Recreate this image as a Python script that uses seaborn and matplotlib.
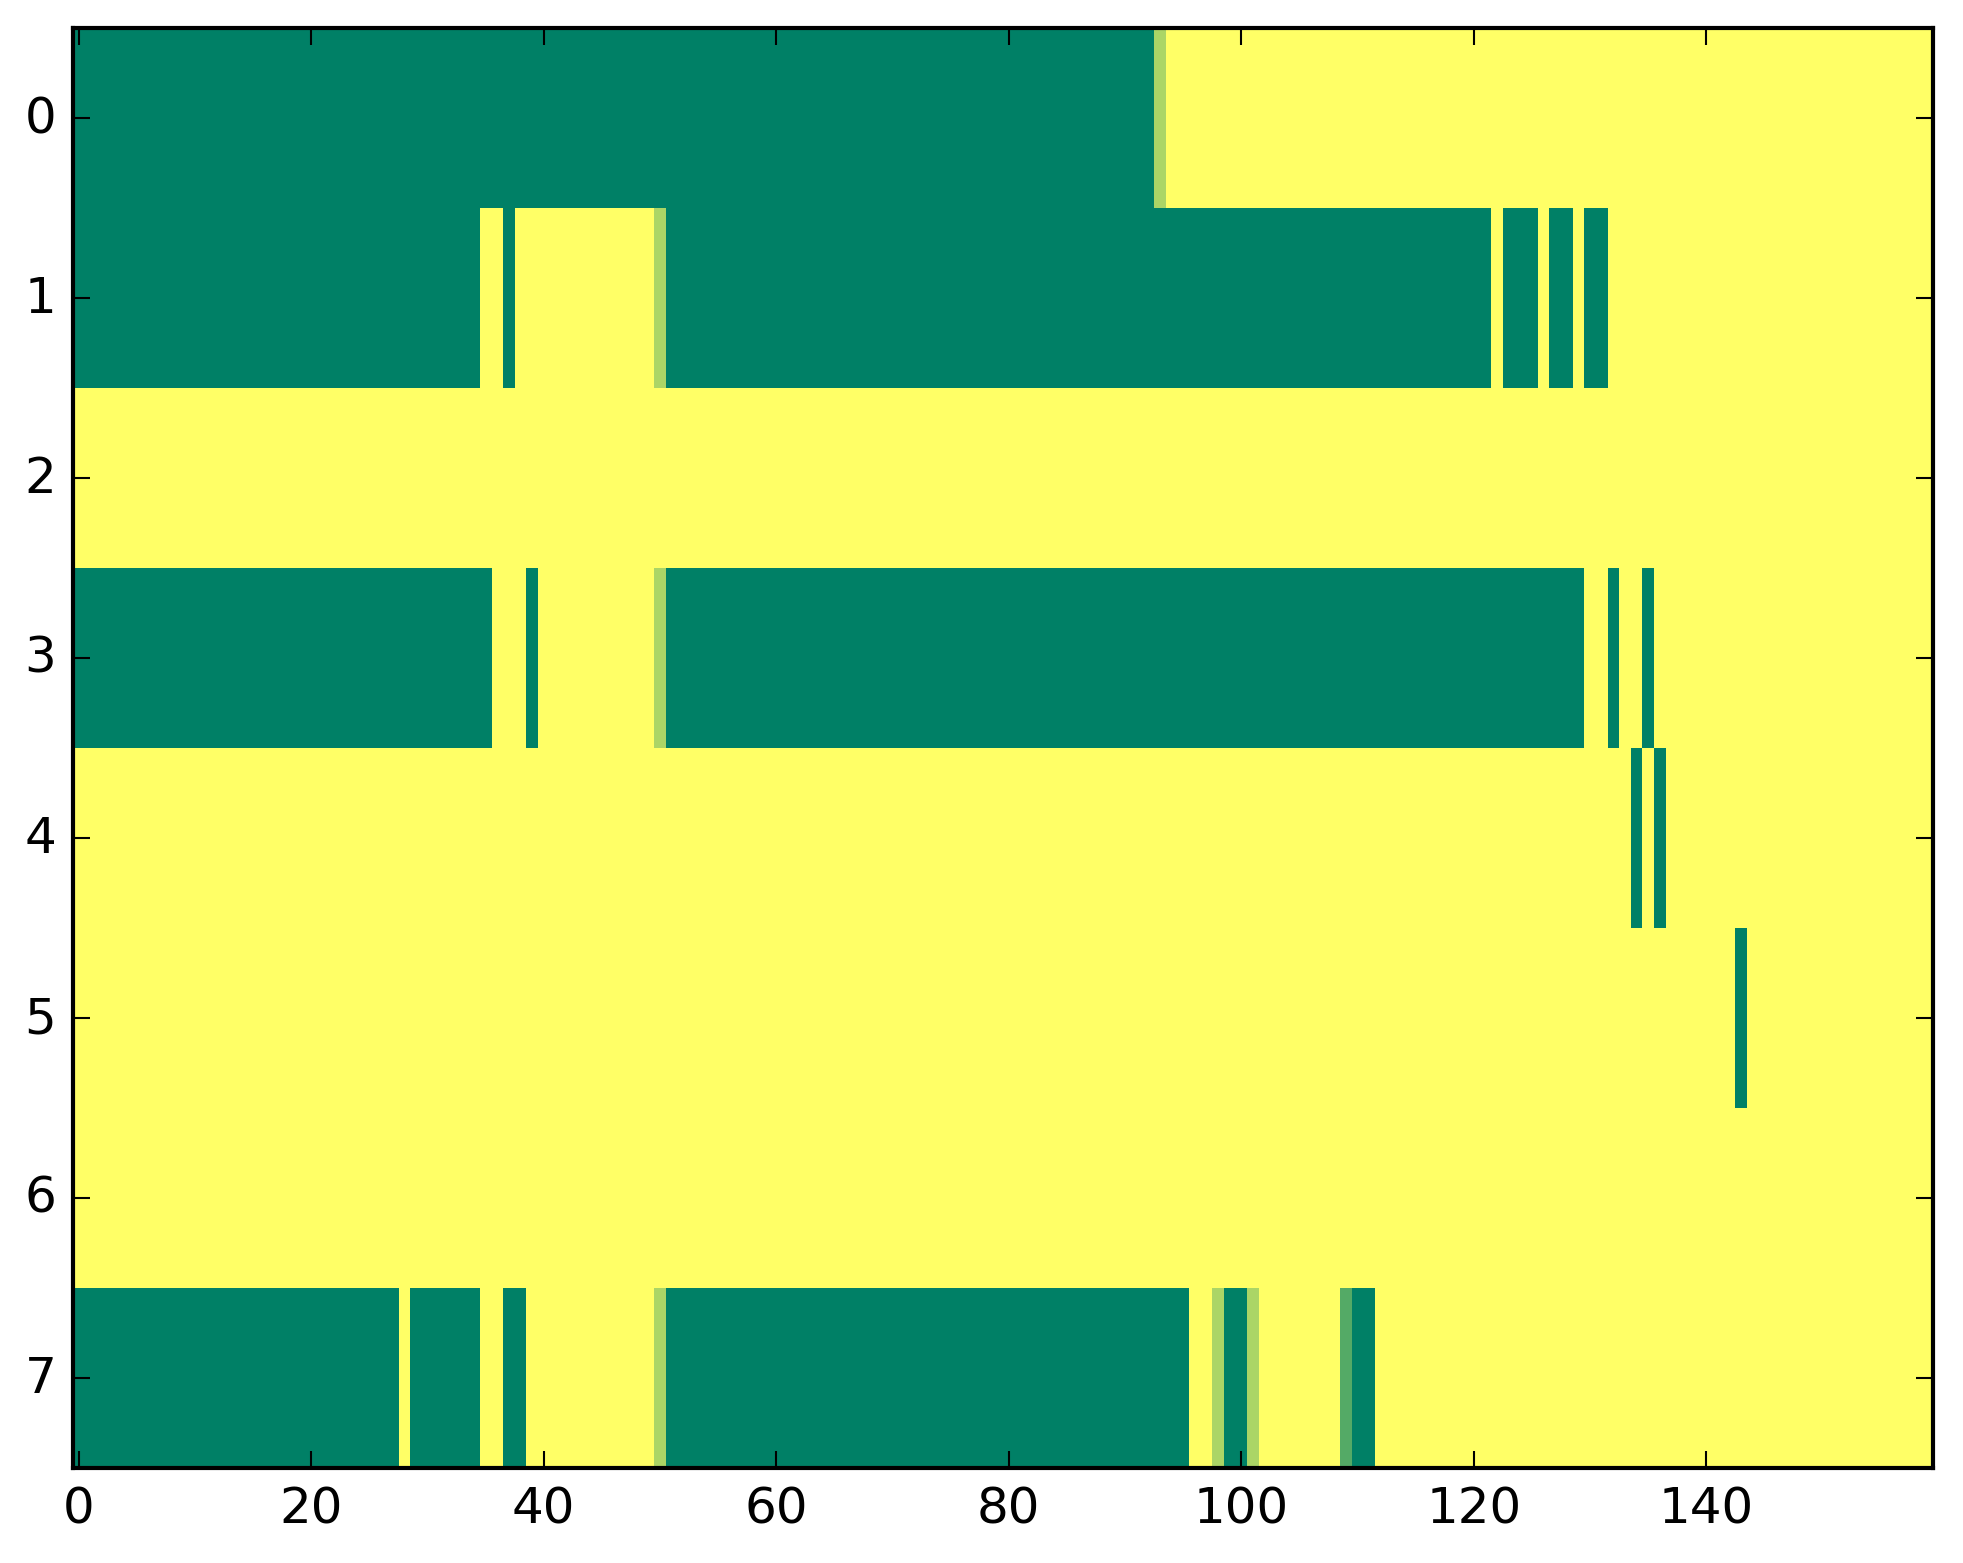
import numpy as np
import pandas as pd
import matplotlib
matplotlib.use("Agg")
import matplotlib.pyplot as plt
import seaborn as sns

# cell codes: 0 = dark green, 1 = mid green, 2 = light green, 3 = yellow
# each row is written as runs of (code, number of cells), left to right
row0 = [(0, 93), (2, 1), (3, 66)]
row1 = [(0, 35), (3, 2), (0, 1), (3, 12), (2, 1), (0, 71), (3, 1), (0, 3),
        (3, 1), (0, 2), (3, 1), (0, 2), (3, 28)]
row2 = [(3, 160)]
row3 = [(0, 36), (3, 3), (0, 1), (3, 10), (2, 1), (0, 79), (3, 2), (0, 1),
        (3, 2), (0, 1), (3, 24)]
row4 = [(3, 134), (0, 1), (3, 1), (0, 1), (3, 23)]
row5 = [(3, 143), (0, 1), (3, 16)]
row6 = [(3, 160)]
row7 = [(0, 28), (3, 1), (0, 6), (3, 2), (0, 2), (3, 11), (2, 1), (0, 45),
        (3, 2), (2, 1), (0, 2), (2, 1), (3, 7), (1, 1), (0, 2), (3, 48)]

levels = [0.0, 0.33, 0.67, 1.0]
xtick_vals = [0, 20, 40, 60, 80, 100, 120, 140]
ytick_vals = [0, 1, 2, 3, 4, 5, 6, 7]


def expand(runs):
    cells = []
    for code, n in runs:
        cells += [levels[code]] * n
    return cells


rows = [row0, row1, row2, row3, row4, row5, row6, row7]
data = pd.DataFrame([expand(r) for r in rows])

plt.style.use("classic")
plt.rcParams["font.family"] = ["DejaVu Sans"]
plt.rcParams["font.size"] = 12

fig = plt.figure(figsize=(1963 / 300, 1564 / 300), dpi=300, facecolor="white")
ax = fig.add_axes([73 / 1963, 95 / 1564, 1860 / 1963, 1440 / 1564])

sns.heatmap(data, cmap="summer", vmin=0, vmax=1, cbar=False, ax=ax,
            xticklabels=False, yticklabels=False, linewidths=0)

for s in ax.spines.values():
    s.set_visible(True)
    s.set_linewidth(1.0)
    s.set_color("black")

ax.set_xticks([v + 0.5 for v in xtick_vals])
ax.set_xticklabels([str(v) for v in xtick_vals], rotation=0, fontsize=12)
ax.set_yticks([v + 0.5 for v in ytick_vals])
ax.set_yticklabels([str(v) for v in ytick_vals], rotation=0, fontsize=12,
                   va="center")
ax.tick_params(direction="in", top=True, right=True, length=4, width=0.5,
               pad=4)
ax.set_xlabel("")
ax.set_ylabel("")

fig.savefig("out.png", dpi=300, facecolor="white")
